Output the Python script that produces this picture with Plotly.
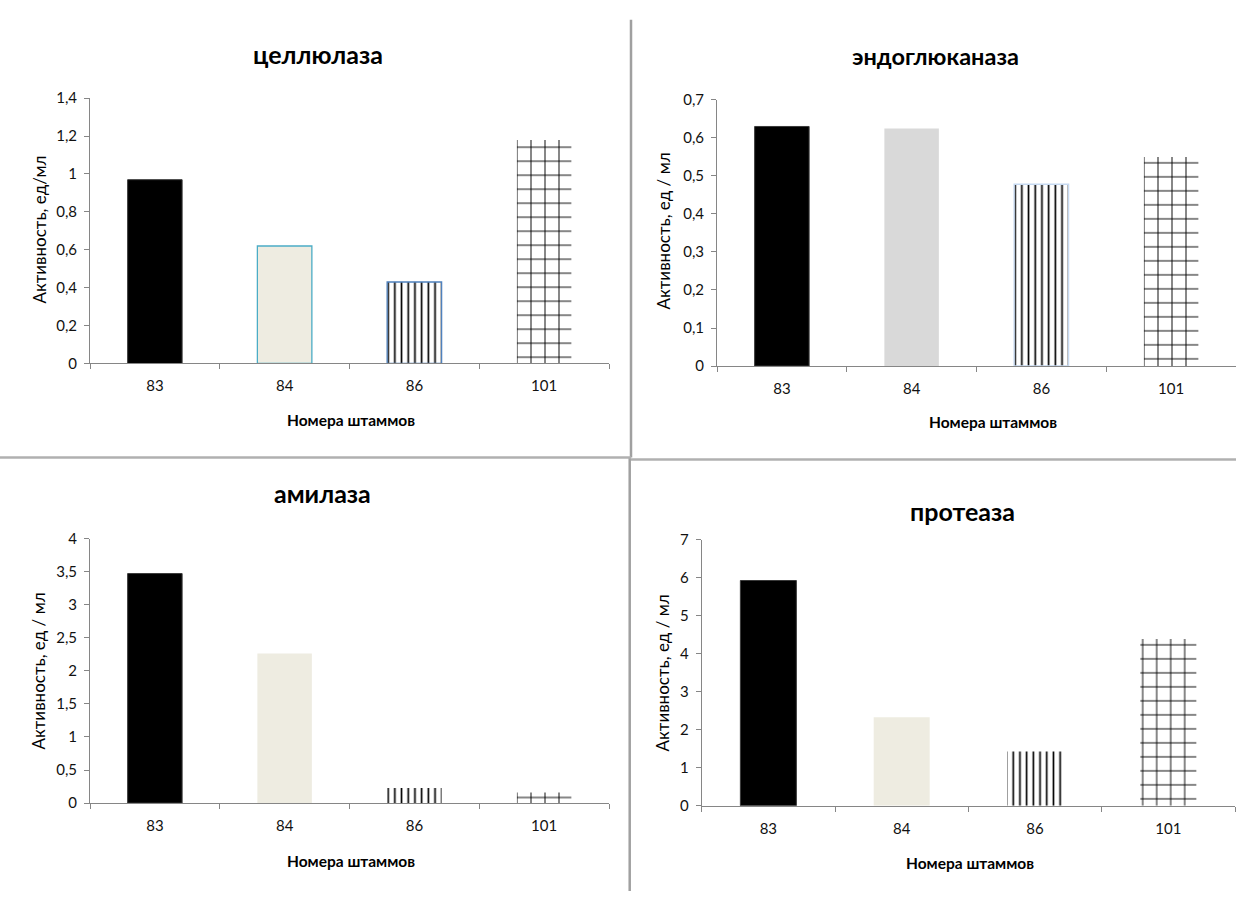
import plotly.graph_objects as go

W, H = 1236, 899

# Strain numbers and enzyme activity (units/ml) for each enzyme
strains = ["83", "84", "86", "101"]
cellulase = [0.97, 0.62, 0.43, 1.18]
endoglucanase = [0.63, 0.625, 0.478, 0.55]
amylase = [3.47, 2.26, 0.23, 0.16]
protease = [5.93, 2.33, 1.43, 4.39]

titles = ["целлюлаза", "эндоглюканаза", "амилаза", "протеаза"]
y_titles = ["Активность, ед/мл", "Активность, ед / мл", "Активность, ед / мл", "Активность, ед / мл"]
x_title = "Номера штаммов"
y_max = [1.4, 0.7, 4, 7]
y_step = [0.2, 0.1, 0.5, 1]

FONT = "Lato, 'Noto Sans', sans-serif"
AX = "#868686"

# plot-area boxes in pixels: (left, right, top, bottom)
boxes = [
    (90, 609, 90, 360.7),
    (717, 1236, 91.7, 363.3),
    (90, 609, 539.3, 809.3),
    (701.7, 1235, 540.7, 812),
]
# per-bar fill and outline for each panel (order: 83, 84, 86, 101)
fills = [
    ["black", "#eeece1", "white", "white"],
    ["black", "#d9d9d9", "white", "white"],
    ["black", "#eeece1", "white", "white"],
    ["black", "#eeece1", "white", "white"],
]
outlines = [
    [("#3a3a3a", 1), ("#4bacc6", 1.3), ("#4f81bd", 1.3), (None, 0)],
    [("#3a3a3a", 1), (None, 0), ("#c6d9f1", 1.3), (None, 0)],
    [("#3a3a3a", 1), (None, 0), (None, 0), (None, 0)],
    [("#3a3a3a", 1), (None, 0), (None, 0), (None, 0)],
]
# fill pattern per strain: vertical lines for 86, grid for 101
patterns = [None, None,
            dict(shape="|", size=6.7, solidity=0.25),
            dict(shape="+", size=14, solidity=0.13)]
series = [cellulase, endoglucanase, amylase, protease]

fig = go.Figure()
annotations = []
for i, (vals, box) in enumerate(zip(series, boxes)):
    n = "" if i == 0 else str(i + 1)
    l, r, t, b = box
    for j, (s, v) in enumerate(zip(strains, vals)):
        lc, lw = outlines[i][j]
        marker = dict(color=fills[i][j],
                      line=dict(color=lc or fills[i][j], width=lw))
        if patterns[j] is not None:
            marker["pattern"] = dict(fgcolor="black", fgopacity=1,
                                     fillmode="overlay", **patterns[j])
        fig.add_trace(go.Bar(
            x=[s], y=[v], width=0.42,
            xaxis="x" + n, yaxis="y" + n,
            marker=marker, showlegend=False, hoverinfo="skip",
        ))
    fig.update_layout(**{
        "xaxis" + n: dict(
            domain=[l / W, min(r / W, 1)], anchor="y" + n,
            type="category", categoryorder="array", categoryarray=strains,
            range=[-0.5, 3.5],
            showline=True, linecolor=AX, linewidth=1,
            ticks="outside", tickson="boundaries", ticklen=5, tickcolor=AX,
            tickfont=dict(family=FONT, size=15, color="#111"),
            ticklabelstandoff=9, showgrid=False, zeroline=False,
        ),
        "yaxis" + n: dict(
            domain=[1 - b / H, 1 - t / H], anchor="x" + n,
            range=[0, y_max[i]], dtick=y_step[i], tick0=0,
            showline=True, linecolor=AX, linewidth=1,
            ticks="outside", ticklen=5, tickcolor=AX,
            tickfont=dict(family=FONT, size=15, color="#111"),
            ticklabelstandoff=4, showgrid=False, zeroline=False,
        ),
    })

# chart titles, axis titles
title_pos = [(318, 45), (935, 47), (322, 493), (962, 511)]
title_size = [25, 23.5, 25, 25]
xt_pos = [(351, 418), (993, 420), (351, 868), (970, 870)]
yt_pos = [(40, 224), (663, 226), (38, 675), (662, 677)]
for i in range(4):
    tx, ty = title_pos[i]
    annotations.append(dict(text="<b>%s</b>" % titles[i], x=tx / W, y=1 - ty / H,
                            xref="paper", yref="paper", showarrow=False,
                            xanchor="center", yanchor="middle",
                            font=dict(family=FONT, size=title_size[i], color="black")))
    ax_, ay_ = xt_pos[i]
    annotations.append(dict(text="<b>%s</b>" % x_title, x=ax_ / W, y=1 - ay_ / H,
                            xref="paper", yref="paper", showarrow=False,
                            xanchor="center", yanchor="middle",
                            font=dict(family=FONT, size=15.5, color="black")))
    yx, yy = yt_pos[i]
    annotations.append(dict(text=y_titles[i], x=yx / W, y=1 - yy / H,
                            xref="paper", yref="paper", showarrow=False,
                            xanchor="center", yanchor="middle", textangle=-90,
                            font=dict(family=FONT, size=17, color="black")))

# panel dividers
DIV = "#a0a0a0"
shapes = [
    dict(type="line", xref="paper", yref="paper", x0=631 / W, x1=631 / W,
         y0=1 - 10 / H, y1=1 - 456.7 / H, line=dict(color=DIV, width=2.5)),
    dict(type="line", xref="paper", yref="paper", x0=629.7 / W, x1=629.7 / W,
         y0=1 - 456.7 / H, y1=0, line=dict(color=DIV, width=2.5)),
    dict(type="line", xref="paper", yref="paper", x0=0, x1=631 / W,
         y0=1 - 456.7 / H, y1=1 - 456.7 / H, line=dict(color="#b0b0b0", width=2.5)),
    dict(type="line", xref="paper", yref="paper", x0=631 / W, x1=1,
         y0=1 - 458.7 / H, y1=1 - 458.7 / H, line=dict(color="#b0b0b0", width=2.5)),
]

fig.update_layout(
    width=W, height=H, margin=dict(l=0, r=0, t=0, b=0),
    paper_bgcolor="white", plot_bgcolor="white",
    separators=", ", barmode="overlay",
    annotations=annotations, shapes=shapes,
    font=dict(family=FONT, color="black"),
)

fig.write_html("out.html")
